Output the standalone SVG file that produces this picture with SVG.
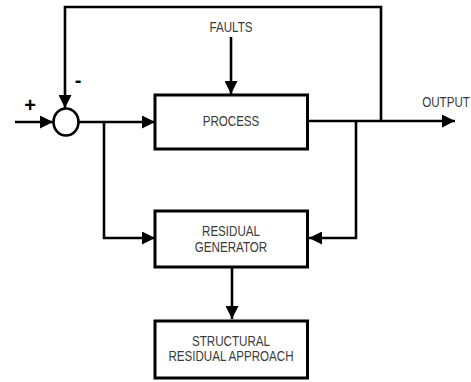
<svg xmlns="http://www.w3.org/2000/svg" width="471" height="382" viewBox="0 0 471 382">
<style>
.box{fill:#fff;stroke:#000;stroke-width:3}
.ln{fill:none;stroke:#000;stroke-width:2.6}
.t{font-family:"Liberation Sans",Arial,sans-serif;font-size:11.6px;fill:#3a3a3a;text-anchor:middle}
.s{font-family:"Liberation Sans",Arial,sans-serif;font-size:20px;font-weight:bold;fill:#000;text-anchor:middle}
</style>
<defs>
<marker id="ah" markerUnits="userSpaceOnUse" markerWidth="14" markerHeight="13" refX="13" refY="6.5" orient="auto">
<path d="M0,0 L13,6.5 L0,13 Z" fill="#000"/>
</marker>
</defs>
<rect width="471" height="382" fill="#fff"/>
<g id="connectors">
<path class="ln" d="M381,121 L381,7 L65,7 L65,108" marker-end="url(#ah)"/>
<path class="ln" d="M15,122 L53,122" marker-end="url(#ah)"/>
<path class="ln" d="M78,122 L155,122" marker-end="url(#ah)"/>
<path class="ln" d="M104,122 L104,238 L155,238" marker-end="url(#ah)"/>
<path class="ln" d="M231,37 L231,94" marker-end="url(#ah)"/>
<path class="ln" d="M308,121 L455,121" marker-end="url(#ah)"/>
<path class="ln" d="M356,121 L356,238 L309,238" marker-end="url(#ah)"/>
<path class="ln" d="M232,268 L232,319" marker-end="url(#ah)"/>
</g>
<g id="sum">
<ellipse cx="66" cy="122" rx="12.5" ry="13.5" fill="#fff" stroke="#000" stroke-width="2.6"/>
<text class="s" x="30" y="112">+</text>
<text class="s" x="78" y="87">-</text>
</g>
<g id="faults"><text class="t" transform="translate(231,32) scale(1,1.2)">FAULTS</text></g>
<g id="output"><text class="t" transform="translate(446,107) scale(1,1.2)">OUTPUT</text></g>
<g id="process">
<rect class="box" x="155" y="95" width="152.5" height="54"/>
<text class="t" transform="translate(231,126) scale(1,1.2)">PROCESS</text>
</g>
<g id="residual-generator">
<rect class="box" x="155" y="211" width="152.5" height="56"/>
<text class="t" transform="translate(231,235.5) scale(1,1.2)">RESIDUAL</text>
<text class="t" transform="translate(231,251.5) scale(1,1.2)">GENERATOR</text>
</g>
<g id="structural">
<rect class="box" x="155" y="321" width="152.5" height="57"/>
<text class="t" transform="translate(231,345.5) scale(1,1.2)">STRUCTURAL</text>
<text class="t" transform="translate(231,361) scale(1,1.2)">RESIDUAL APPROACH</text>
</g>
</svg>
